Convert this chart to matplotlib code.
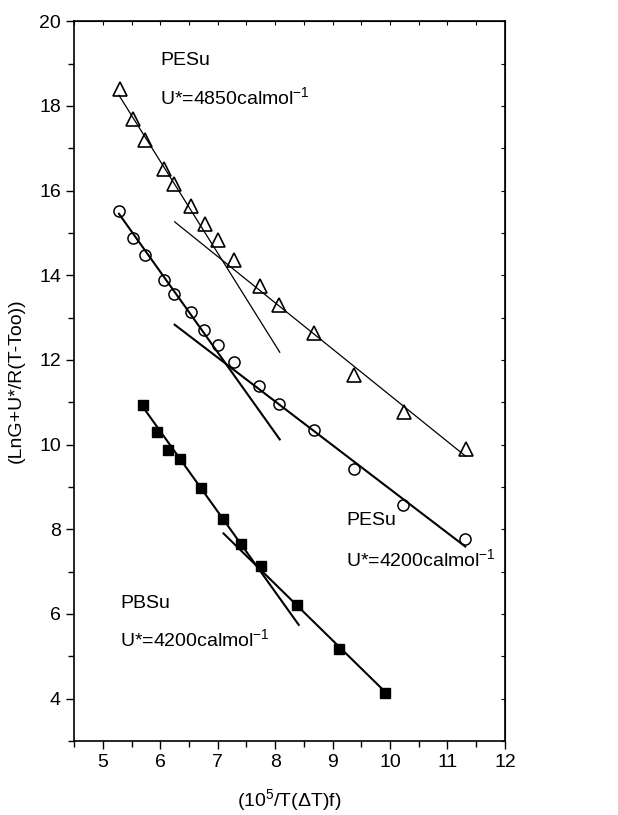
import matplotlib
matplotlib.use("Agg")
import matplotlib.pyplot as plt
from matplotlib.ticker import MultipleLocator

plt.rcParams['font.family'] = ['Liberation Sans', 'DejaVu Sans']

# PESu, U*=4850 (triangles)
tri_x = [5.30, 5.53, 5.735, 6.06, 6.23, 6.54, 6.77, 7.00, 7.29, 7.73, 8.07, 8.68, 9.38, 10.25, 11.32]
tri_y = [18.39, 17.68, 17.19, 16.50, 16.16, 15.64, 15.20, 14.82, 14.36, 13.75, 13.30, 12.63, 11.65, 10.76, 9.90]
# PESu, U*=4200 (circles)
circ_x = [5.28, 5.53, 5.735, 6.06, 6.23, 6.53, 6.755, 7.00, 7.28, 7.72, 8.07, 8.68, 9.38, 10.23, 11.31]
circ_y = [15.51, 14.88, 14.47, 13.88, 13.56, 13.12, 12.71, 12.36, 11.94, 11.38, 10.96, 10.34, 9.43, 8.57, 7.76]
# PBSu, U*=4200 (squares)
sq_x = [5.69, 5.94, 6.14, 6.34, 6.70, 7.10, 7.40, 7.75, 8.38, 9.11, 9.92]
sq_y = [10.94, 10.29, 9.87, 9.66, 8.97, 8.23, 7.66, 7.12, 6.20, 5.18, 4.13]

# fitted regime lines (end points)
tri_fit1 = ([5.28, 8.08], [18.25, 12.18])
tri_fit2 = ([6.25, 11.32], [15.26, 9.72])
circ_fit1 = ([5.28, 8.08], [15.45, 10.12])
circ_fit2 = ([6.25, 11.31], [12.83, 7.59])
sq_fit1 = ([5.69, 8.41], [10.90, 5.74])
sq_fit2 = ([7.10, 9.92], [7.90, 4.15])

fig = plt.figure(figsize=(6.18, 8.15), dpi=100)
ax = fig.add_axes([0.120, 0.091, 0.697, 0.883])

ax.plot(*tri_fit1, color='black', lw=0.9)
ax.plot(*tri_fit2, color='black', lw=0.9)
ax.plot(*circ_fit1, color='black', lw=1.5)
ax.plot(*circ_fit2, color='black', lw=1.5)
ax.plot(*sq_fit1, color='black', lw=1.5)
ax.plot(*sq_fit2, color='black', lw=1.5)

ax.plot(tri_x, tri_y, linestyle='none', marker='^', ms=10.5, mfc='none', mec='black', mew=1.2)
ax.plot(circ_x, circ_y, linestyle='none', marker='o', ms=8, mfc='none', mec='black', mew=1.1)
ax.plot(sq_x, sq_y, linestyle='none', marker='s', ms=7.5, mfc='black', mec='black')

fs = 14
ax.text(6.0, 19.08, 'PESu', fontsize=fs, va='center')
ax.text(6.0, 18.18, 'U*=4850calmol$^{\\mathregular{-1}}$', fontsize=fs, va='center')
ax.text(9.24, 8.2, 'PESu', fontsize=fs, va='center')
ax.text(9.24, 7.28, 'U*=4200calmol$^{\\mathregular{-1}}$', fontsize=fs, va='center')
ax.text(5.3, 6.25, 'PBSu', fontsize=fs, va='center')
ax.text(5.3, 5.38, 'U*=4200calmol$^{\\mathregular{-1}}$', fontsize=fs, va='center')

ax.set_xlim(4.5, 12)
ax.set_ylim(3, 20)
ax.xaxis.set_major_locator(MultipleLocator(1))
ax.xaxis.set_minor_locator(MultipleLocator(0.5))
ax.yaxis.set_minor_locator(MultipleLocator(1))
ax.set_yticks([4, 6, 8, 10, 12, 14, 16, 18, 20])
ax.tick_params(which='both', direction='out', labelsize=14, width=1)
ax.tick_params(which='major', length=6)
ax.tick_params(which='minor', length=4)

# inward ticks on top/right
top = ax.secondary_xaxis('top')
top.xaxis.set_major_locator(MultipleLocator(0.5))
top.tick_params(direction='in', length=3, labeltop=False)
right = ax.secondary_yaxis('right')
right.yaxis.set_major_locator(MultipleLocator(1))
right.tick_params(direction='in', length=3, labelright=False)

for s in ax.spines.values():
    s.set_linewidth(1.2)

ax.set_xlabel('(10$^{\\mathregular{5}}$/T($\\mathregular{\\Delta}$T)f)', fontsize=14, labelpad=12)
ax.set_ylabel('(LnG+U*/R(T-Too))', fontsize=14, labelpad=10)

fig.savefig('out.png', dpi=100)
